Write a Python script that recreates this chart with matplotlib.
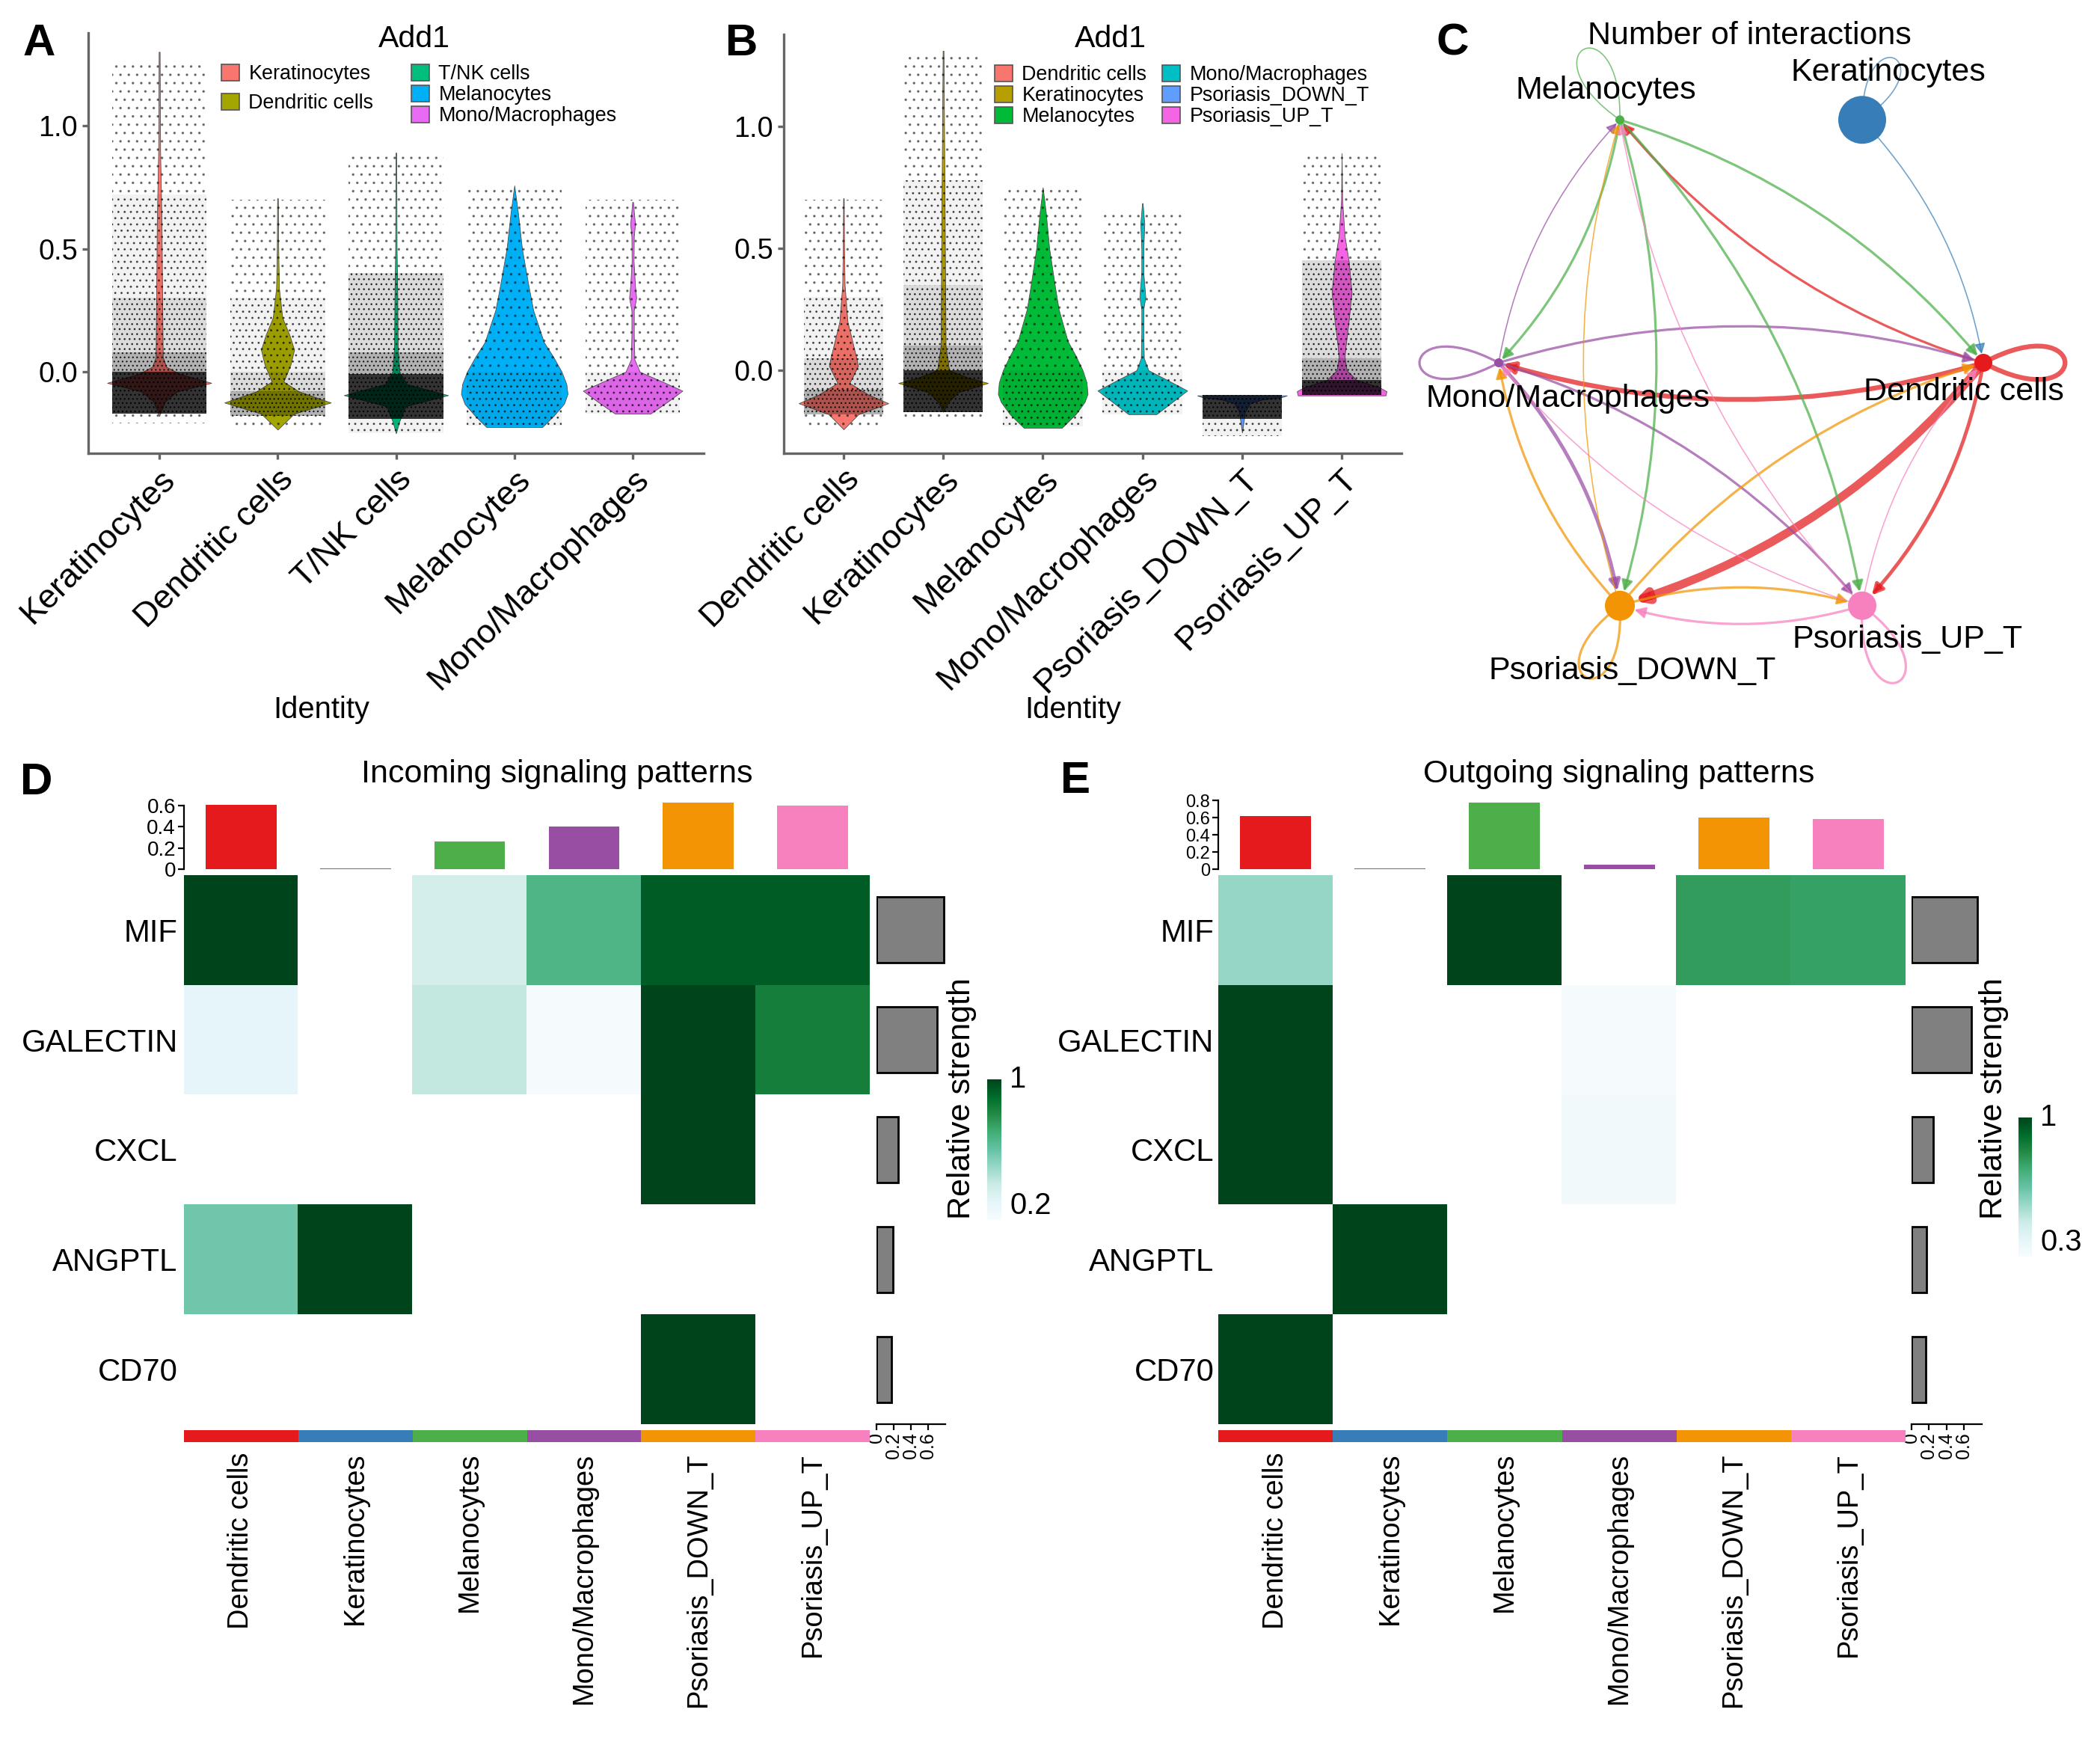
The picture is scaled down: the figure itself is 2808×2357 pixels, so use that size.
#!/usr/bin/env python3
"""Add1 violin plots, CellChat interaction circle and signaling heatmaps."""

import numpy as np
import matplotlib
matplotlib.use('Agg')
from matplotlib import pyplot as plt
from matplotlib.patches import FancyArrowPatch, Rectangle, Patch
from matplotlib.path import Path
from matplotlib.colors import LinearSegmentedColormap, Normalize, to_rgba
from matplotlib.cm import ScalarMappable

plt.rcParams['font.family'] = ['Liberation Sans', 'DejaVu Sans']
plt.rcParams['hatch.linewidth'] = 0.45

W, H, DPI = 2808, 2357, 200

# ---------------- panel A: violin (5 groups) ----------------
a_groups = ['Keratinocytes', 'Dendritic cells', 'T/NK cells', 'Melanocytes', 'Mono/Macrophages']
a_colors = ['#F8766D', '#A3A500', '#00BF7D', '#00B0F6', '#E76BF3']
a_prof_y = [
    [1.30, 0.90, 0.60, 0.30, 0.06, 0.02, -0.01, -0.045, -0.08, -0.12, -0.18],
    [0.705, 0.50, 0.34, 0.22, 0.15, 0.09, 0.03, -0.04, -0.08, -0.125, -0.17, -0.235],
    [0.89, 0.50, 0.30, 0.10, 0.00, -0.05, -0.095, -0.14, -0.20, -0.25],
    [0.757, 0.65, 0.50, 0.35, 0.25, 0.12, 0.06, 0.00, -0.05, -0.09, -0.13, -0.18, -0.225],
    [0.69, 0.60, 0.55, 0.45, 0.35, 0.30, 0.25, 0.15, 0.05, 0.00, -0.04, -0.077, -0.12, -0.17],
]
a_prof_w = [
    [0.004, 0.008, 0.02, 0.025, 0.03, 0.06, 0.18, 0.44, 0.15, 0.05, 0.0],
    [0.003, 0.006, 0.012, 0.04, 0.10, 0.140, 0.11, 0.05, 0.18, 0.45, 0.14, 0.0],
    [0.003, 0.006, 0.012, 0.015, 0.03, 0.09, 0.44, 0.08, 0.03, 0.0],
    [0.0, 0.03, 0.065, 0.12, 0.16, 0.25, 0.33, 0.40, 0.44, 0.45, 0.42, 0.33, 0.235],
    [0.003, 0.02, 0.01, 0.008, 0.02, 0.03, 0.01, 0.01, 0.015, 0.06, 0.25, 0.42, 0.30, 0.15],
]
# jittered cells: (low, high, density level 1..5)
a_cloud = [
    [(-0.21, -0.17, 1), (-0.17, 0.00, 5), (0.00, 0.08, 4), (0.08, 0.30, 3), (0.30, 0.72, 2), (0.72, 1.25, 1)],
    [(-0.23, -0.18, 1), (-0.18, -0.08, 4), (-0.08, 0.00, 3), (0.00, 0.30, 2), (0.30, 0.70, 1)],
    [(-0.25, -0.19, 2), (-0.19, -0.01, 5), (-0.01, 0.08, 4), (0.08, 0.40, 3), (0.40, 0.88, 1)],
    [(-0.22, 0.00, 2), (0.00, 0.75, 1)],
    [(-0.17, 0.00, 2), (0.00, 0.70, 1)],
]

# ---------------- panel B: violin (6 groups) ----------------
b_groups = ['Dendritic cells', 'Keratinocytes', 'Melanocytes', 'Mono/Macrophages',
            'Psoriasis_DOWN_T', 'Psoriasis_UP_T']
b_colors = ['#F8766D', '#B79F00', '#00BA38', '#00BFC4', '#619CFF', '#F564E3']
b_prof_y = [
    [0.705, 0.50, 0.35, 0.20, 0.10, 0.05, 0.018, -0.02, -0.052, -0.10, -0.135, -0.18, -0.242],
    [1.31, 0.70, 0.40, 0.10, 0.00, -0.03, -0.052, -0.09, -0.13, -0.17],
    [0.75, 0.65, 0.50, 0.35, 0.25, 0.12, 0.06, 0.00, -0.05, -0.097, -0.13, -0.18, -0.236],
    [0.685, 0.60, 0.50, 0.40, 0.30, 0.25, 0.15, 0.05, 0.00, -0.04, -0.083, -0.13, -0.18],
    [-0.103, -0.11, -0.12, -0.135, -0.17, -0.255],
    [0.89, 0.70, 0.55, 0.45, 0.32, 0.20, 0.10, 0.055, 0.00, -0.04, -0.07, -0.086, -0.103],
]
b_prof_w = [
    [0.003, 0.006, 0.012, 0.04, 0.10, 0.13, 0.145, 0.10, 0.06, 0.25, 0.45, 0.15, 0.0],
    [0.004, 0.015, 0.02, 0.025, 0.06, 0.25, 0.45, 0.15, 0.05, 0.0],
    [0.0, 0.03, 0.065, 0.12, 0.16, 0.25, 0.33, 0.40, 0.44, 0.45, 0.42, 0.33, 0.19],
    [0.003, 0.02, 0.01, 0.01, 0.03, 0.01, 0.01, 0.015, 0.06, 0.25, 0.45, 0.30, 0.14],
    [0.45, 0.40, 0.20, 0.08, 0.03, 0.0],
    [0.0, 0.005, 0.03, 0.07, 0.10, 0.07, 0.04, 0.03, 0.05, 0.15, 0.38, 0.45, 0.44],
]
b_cloud = [
    [(-0.23, -0.18, 1), (-0.18, -0.08, 4), (-0.08, 0.05, 3), (0.05, 0.30, 2), (0.30, 0.70, 1)],
    [(-0.21, -0.17, 1), (-0.17, 0.00, 5), (0.00, 0.10, 4), (0.10, 0.35, 3), (0.35, 0.78, 2), (0.78, 1.30, 1)],
    [(-0.23, 0.00, 2), (0.00, 0.75, 1)],
    [(-0.18, 0.00, 2), (0.00, 0.65, 1)],
    [(-0.27, -0.20, 2), (-0.20, -0.10, 5)],
    [(-0.10, -0.04, 5), (-0.04, 0.05, 4), (0.05, 0.45, 3), (0.45, 0.90, 1)],
]

# ---------------- panel C: number of interactions ----------------
cc_nodes = ['Dendritic cells', 'Keratinocytes', 'Melanocytes', 'Mono/Macrophages',
            'Psoriasis_DOWN_T', 'Psoriasis_UP_T']
cc_colors = ['#E41A1C', '#377EB8', '#4DAF4A', '#984EA3', '#F29403', '#F781BF']
cc_node_size = [12, 32, 6, 6, 20, 19]
edge_src = [0, 0, 0, 0, 0, 3, 3, 3, 3, 3, 2, 2, 2, 2, 2, 1, 1, 4, 4, 4, 4, 4, 5, 5, 5, 5, 5]
edge_dst = [3, 4, 5, 2, 0, 0, 2, 4, 5, 3, 0, 3, 4, 5, 2, 0, 1, 0, 3, 2, 5, 4, 0, 3, 2, 4, 5]
edge_count = [4, 7, 3, 2, 4, 2, 1, 3, 2, 2, 2, 2, 2, 2, 1, 1, 1, 2, 2, 1, 2, 2, 1, 1, 1, 2, 2]

# ---------------- panels D/E: signaling heatmaps ----------------
hm_rows = ['MIF', 'GALECTIN', 'CXCL', 'ANGPTL', 'CD70']
hm_cols = cc_nodes
in_values = [
    [1.00, 0, 0.37, 0.66, 0.94, 0.94],
    [0.30, 0, 0.42, 0.21, 1.00, 0.84],
    [0, 0, 0, 0, 1.00, 0],
    [0.58, 1.00, 0, 0, 0, 0],
    [0, 0, 0, 0, 1.00, 0],
]
in_top = [0.61, 0.01, 0.26, 0.40, 0.63, 0.60]
in_right = [0.78, 0.70, 0.25, 0.19, 0.17]
out_values = [
    [0.57, 0, 1.00, 0, 0.78, 0.77],
    [1.00, 0, 0, 0.31, 0, 0],
    [1.00, 0, 0, 0.33, 0, 0],
    [0, 1.00, 0, 0, 0, 0],
    [1.00, 0, 0, 0, 0, 0],
]
out_top = [0.62, 0.01, 0.77, 0.05, 0.60, 0.58]
out_right = [0.75, 0.68, 0.25, 0.17, 0.16]

BUGN = ['#F7FCFD', '#E5F5F9', '#CCECE6', '#99D8C9', '#66C2A4',
        '#41AE76', '#238B45', '#006D2C', '#00441B']
# density level -> (shade alpha, dot hatch, dot alpha)
CLOUD_STYLE = {5: (0.80, '......', 0.9), 4: (0.30, '......', 0.8), 3: (0.14, '.....', 0.75),
               2: (0.05, '....', 0.6), 1: (0.0, '...', 0.45)}
PT = 72.0 / DPI  # points per pixel


def px_axes(fig, x0, y0, x1, y1):
    return fig.add_axes([x0 / W, 1 - y1 / H, (x1 - x0) / W, (y1 - y0) / H])


def fig_text(fig, x, y, s, **kw):
    return fig.text(x / W, 1 - y / H, s, **kw)


def violin_panel(ax, groups, colors, prof_y, prof_w, clouds, ylim):
    for i, (col, ys, ws, bands) in enumerate(zip(colors, prof_y, prof_w, clouds)):
        xc = i + 1
        ys = np.array(ys)
        ws = np.array(ws)
        ax.fill_betweenx(ys, xc - ws, xc + ws, facecolor=col, edgecolor='#4d4d4d',
                         linewidth=0.3, zorder=2)
        for y0, y1, lev in bands:
            alpha, hatch, dot_alpha = CLOUD_STYLE[lev]
            if alpha > 0:
                ax.add_patch(Rectangle((xc - 0.4, y0), 0.8, y1 - y0, facecolor='black',
                                       alpha=alpha, lw=0, zorder=3))
            ax.add_patch(Rectangle((xc - 0.4, y0), 0.8, y1 - y0, facecolor='none',
                                   edgecolor=(0, 0, 0, dot_alpha), hatch=hatch, lw=0, zorder=3))
    ax.set_xlim(0.4, len(groups) + 0.6)
    ax.set_ylim(*ylim)
    ax.set_xticks(range(1, len(groups) + 1))
    ax.set_xticklabels(groups, rotation=45, ha='right', va='top', rotation_mode='anchor',
                       fontsize=16.2)
    ax.set_yticks([0, 0.5, 1.0])
    ax.set_yticklabels(['0.0', '0.5', '1.0'], fontsize=13.6)
    for side in ['top', 'right']:
        ax.spines[side].set_visible(False)
    for side in ['left', 'bottom']:
        ax.spines[side].set_color('#666666')
        ax.spines[side].set_linewidth(1.2)
    ax.tick_params(length=3, width=1.2, color='#666666', pad=2)


def add_legend(fig, labels, colors, x, y, spacing):
    handles = [Patch(facecolor=c, edgecolor='#555555', linewidth=0.6) for c in colors]
    fig.legend(handles, labels, loc='upper left', bbox_to_anchor=(x / W, 1 - y / H),
               frameon=False, fontsize=9.7, handlelength=0.9, handleheight=0.9,
               handletextpad=0.45, labelspacing=spacing, borderpad=0, borderaxespad=0)


def heatmap_panel(fig, values, top, right, vmin, hm, top_y0, top_max, top_ticks, top_fs,
                  right_x0, right_scale, cbar_box, strength_x, label_pad):
    x0, y0, x1, y1 = hm
    cmap = LinearSegmentedColormap.from_list('bugn', BUGN)
    cmap.set_bad('white')
    data = np.ma.masked_equal(np.array(values, dtype=float), 0)

    ax = px_axes(fig, x0, y0, x1, y1)
    ax.imshow(data, cmap=cmap, vmin=vmin, vmax=1, aspect='auto', interpolation='nearest')
    ax.set_xticks([])
    ax.set_yticks(range(len(hm_rows)))
    ax.set_yticklabels(hm_rows, fontsize=15.1)
    ax.tick_params(axis='y', length=0, pad=label_pad)
    for sp in ax.spines.values():
        sp.set_visible(False)

    # column sums on top
    axt = px_axes(fig, x0, top_y0, x1, y0 - 8)
    axt.bar(range(len(hm_cols)), top, width=0.62, color=cc_colors)
    axt.set_xlim(-0.5, len(hm_cols) - 0.5)
    axt.set_ylim(0, top_max)
    axt.set_xticks([])
    axt.set_yticks(top_ticks)
    axt.set_yticklabels(['0' if t == 0 else '%.1f' % t for t in top_ticks], fontsize=top_fs)
    axt.tick_params(axis='y', length=3, width=0.8, pad=1)
    for side in ['top', 'right', 'bottom']:
        axt.spines[side].set_visible(False)
    axt.spines['left'].set_linewidth(0.8)
    axt.spines['left'].set_bounds(0, top_ticks[-1])

    # row sums on the right
    axr = px_axes(fig, right_x0, y0, right_x0 + 0.8 * right_scale, y1)
    axr.barh(range(len(hm_rows)), right, height=0.6, color='#808080', edgecolor='black',
             linewidth=1.0)
    axr.set_ylim(len(hm_rows) - 0.5, -0.5)
    axr.set_xlim(0, 0.8)
    axr.set_yticks([])
    axr.set_xticks([0, 0.2, 0.4, 0.6])
    axr.set_xticklabels(['0', '0.2', '0.4', '0.6'], rotation=90, fontsize=9)
    axr.tick_params(axis='x', length=3, width=0.8, pad=1)
    for side in ['top', 'right', 'left']:
        axr.spines[side].set_visible(False)
    axr.spines['bottom'].set_linewidth(0.8)

    # group colour strip + labels
    axs = px_axes(fig, x0, 1912, x1, 1928)
    axs.bar(range(len(hm_cols)), [1] * len(hm_cols), width=1.0, color=cc_colors)
    axs.set_xlim(-0.5, len(hm_cols) - 0.5)
    axs.set_ylim(0, 1)
    axs.set_yticks([])
    axs.set_xticks(range(len(hm_cols)))
    axs.set_xticklabels(hm_cols, rotation=90, ha='center', va='top', fontsize=13.7)
    axs.tick_params(axis='x', length=0, pad=5)
    for sp in axs.spines.values():
        sp.set_visible(False)

    # colour legend
    cax = px_axes(fig, *cbar_box)
    cb = fig.colorbar(ScalarMappable(Normalize(vmin, 1), cmap), cax=cax, ticks=[vmin, 1])
    cb.outline.set_visible(False)
    cax.set_yticklabels(['%g' % vmin, '1'], fontsize=14.4)
    cax.tick_params(length=0, pad=4)
    labs = cax.get_yticklabels()
    labs[0].set_va('bottom')
    labs[-1].set_va('center')
    fig_text(fig, strength_x, 1469, 'Relative strength', rotation=90, ha='center',
             va='center', fontsize=15.5)


fig = plt.figure(figsize=(W / DPI, H / DPI), dpi=DPI)

# ---- A ----
ax_a = px_axes(fig, 118, 44, 941, 606)
violin_panel(ax_a, a_groups, a_colors, a_prof_y, a_prof_w, a_cloud, (-0.331, 1.377))
fig_text(fig, 554, 52, 'Add1', ha='center', va='center', fontsize=14.8)
fig_text(fig, 430, 949, 'Identity', ha='center', va='center', fontsize=14.4)
add_legend(fig, a_groups[:2], a_colors[:2], 296, 86, 0.45)
add_legend(fig, a_groups[2:], a_colors[2:], 550, 86, 0.05)

# ---- B ----
ax_b = px_axes(fig, 1048, 46, 1874, 606)
violin_panel(ax_b, b_groups, b_colors, b_prof_y, b_prof_w, b_cloud, (-0.34, 1.377))
fig_text(fig, 1485, 52, 'Add1', ha='center', va='center', fontsize=14.8)
fig_text(fig, 1435, 949, 'Identity', ha='center', va='center', fontsize=14.4)
add_legend(fig, b_groups[:3], b_colors[:3], 1330, 87, 0.05)
add_legend(fig, b_groups[3:], b_colors[3:], 1554, 87, 0.05)

# ---- C ----
ax_c = px_axes(fig, 1880, 0, 2808, 980)
ax_c.set_xlim(1880, 2808)
ax_c.set_ylim(980, 0)
ax_c.axis('off')
node_angle = np.deg2rad([0, 60, 120, 180, 240, 300])
nx = 2328 + 324 * np.cos(node_angle)
ny = 485 - 375 * np.sin(node_angle)
loop_dir = np.deg2rad([0, 62, 117, 180, 245, 295])
loop_len = [165, 140, 160, 160, 160, 170]
label_off = [(-26, 39), (35, -63), (-19, -39), (93, 48), (17, 87), (61, 45)]

for s, t, n in zip(edge_src, edge_dst, edge_count):
    lw = n * 1.6 * PT
    col = to_rgba(cc_colors[s], 0.72)
    if s == t:
        a = np.deg2rad(28)
        L = loop_len[s]
        p0 = (nx[s], ny[s])
        p1 = (nx[s] + L * np.cos(loop_dir[s] + a), ny[s] - L * np.sin(loop_dir[s] + a))
        p2 = (nx[s] + L * np.cos(loop_dir[s] - a), ny[s] - L * np.sin(loop_dir[s] - a))
        path = Path([p0, p1, p2, p0], [Path.MOVETO, Path.CURVE4, Path.CURVE4, Path.CURVE4])
        ax_c.add_patch(FancyArrowPatch(path=path, arrowstyle='-', lw=lw, color=col, zorder=2))
    else:
        ax_c.add_patch(FancyArrowPatch(
            (nx[s], ny[s]), (nx[t], ny[t]), connectionstyle='arc3,rad=-0.15',
            arrowstyle='-|>,head_length=0.35,head_width=0.18', mutation_scale=12,
            lw=lw, color=col, shrinkA=cc_node_size[s] * PT, shrinkB=cc_node_size[t] * PT,
            zorder=2))

ax_c.scatter(nx, ny, s=[(2 * r * PT) ** 2 for r in cc_node_size], c=cc_colors,
             edgecolors='none', zorder=4)
for i, name in enumerate(cc_nodes):
    ax_c.text(nx[i] + label_off[i][0], ny[i] + label_off[i][1], name, ha='center',
              va='center', fontsize=15.5, zorder=5)
fig_text(fig, 2339, 48, 'Number of interactions', ha='center', va='center', fontsize=15.5)

# ---- D / E ----
heatmap_panel(fig, in_values, in_top, in_right, 0.2, (246, 1170, 1163, 1904), 1072, 0.635,
              [0, 0.2, 0.4, 0.6], 10, 1172, 115, (1320, 1443, 1339, 1631), 1286, 3)
fig_text(fig, 745, 1035, 'Incoming signaling patterns', ha='center', va='center', fontsize=15.5)
heatmap_panel(fig, out_values, out_top, out_right, 0.3, (1629, 1170, 2548, 1904), 1070, 0.8,
              [0, 0.2, 0.4, 0.6, 0.8], 8.5, 2556, 117, (2699, 1494, 2717, 1680), 2666, 2)
fig_text(fig, 2165, 1035, 'Outgoing signaling patterns', ha='center', va='center', fontsize=15.5)

for lab, x, y in [('A', 52, 58), ('B', 992, 58), ('C', 1942, 58), ('D', 49, 1047), ('E', 1438, 1044)]:
    fig_text(fig, x, y, lab, ha='center', va='center', fontsize=21.6, fontweight='bold')

fig.savefig('out.png', dpi=DPI)
